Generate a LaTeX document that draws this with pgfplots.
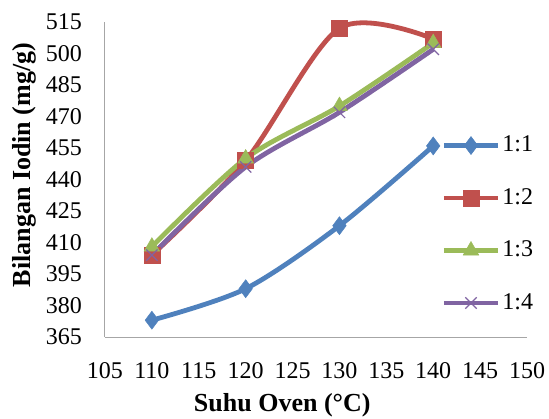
\documentclass[border=0pt]{standalone}
\usepackage{fontspec}
\setmainfont{Liberation Serif}
\usepackage{pgfplots}
\pgfplotsset{compat=1.18}
\definecolor{c1}{HTML}{4F81BD}
\definecolor{c2}{HTML}{C0504D}
\definecolor{c3}{HTML}{9BBB59}
\definecolor{c4}{HTML}{8064A2}
\begin{document}
\fontsize{24}{28}\selectfont
\begin{tikzpicture}
\begin{axis}[
  scale only axis,
  width=422pt, height=315pt,
  xmin=105, xmax=150, ymin=365, ymax=515,
  xtick={105,110,...,150}, ytick={365,380,...,515},
  axis lines*=left,
  axis line style={gray!70, line width=1pt, -},
  major tick length=0pt,
  /pgf/number format/assume math mode=true,
  /pgf/number format/1000 sep={},
  tick label style={font=\fontsize{24}{28}\selectfont},
  yticklabel style={xshift=-15pt},
  xticklabel style={yshift=-17pt},
  xlabel={\textbf{Suhu Oven (°C)}},
  ylabel={\textbf{Bilangan Iodin (mg/g)}},
  label style={font=\fontsize{26}{30}\selectfont},
  xlabel style={at={(ticklabel cs:0.42)}, anchor=north, yshift=1pt},
  ylabel style={at={(ticklabel cs:0.546)}, anchor=south, yshift=-7pt},
  clip=false,
  every axis plot/.append style={line width=4.8pt, smooth},
  legend style={at={(0.79,0.652)}, anchor=north west, draw=none, fill=none,
    font=\fontsize{24}{28}\selectfont, row sep=29pt},
  legend cell align=left,
  legend image code/.code={\draw[mark repeat=2,mark phase=2,#1] plot coordinates {(0pt,0pt) (27pt,0pt) (54pt,0pt)};},
]
\addplot[color=c1, mark=diamond*, mark size=9pt, mark options={line width=0.5pt, fill=c1}] coordinates {
  (110,373) (120,388) (130,418) (140,456)};
\addplot[color=c2, mark=square*, mark size=8pt, mark options={line width=0.5pt, fill=c2}] coordinates {
  (110,404) (120,449) (130,512) (140,507)};
\addplot[color=c3, mark=triangle*, mark size=9pt, mark options={line width=0.5pt, fill=c3}] coordinates {
  (110,408) (120,450) (130,475) (140,505)};
\addplot[color=c4, mark=x, mark size=8pt, mark options={line width=1.2pt}] coordinates {
  (110,404) (120,446) (130,472) (140,502)};
\legend{1:1,1:2,1:3,1:4}
\coordinate (ll) at (rel axis cs:0,0);
\coordinate (ur) at (rel axis cs:1,1);
\end{axis}
\pgfresetboundingbox
\path ([shift={(-105pt,-81pt)}]ll) rectangle ([shift={(22pt,22pt)}]ur);
\end{tikzpicture}
\end{document}
